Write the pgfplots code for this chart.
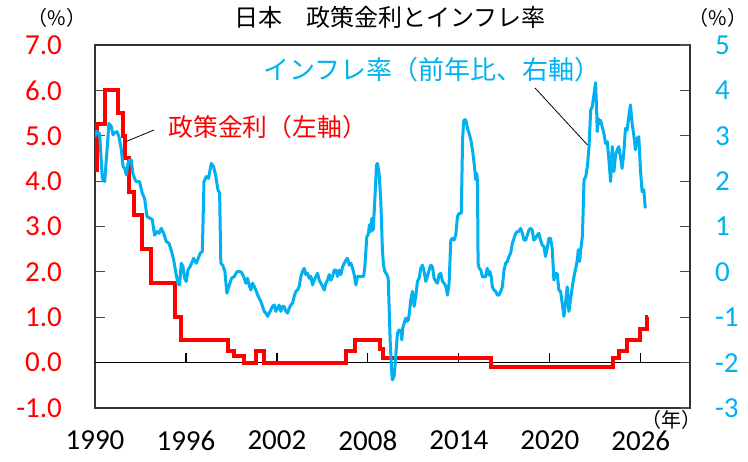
\documentclass[border=0pt]{standalone}
\usepackage{fontspec}
\setmainfont{Carlito}
\newfontfamily\jp{Noto Sans CJK JP}
\usepackage{pgfplots}
\pgfplotsset{compat=1.18}
\definecolor{ratered}{HTML}{FF0000}
\definecolor{cpiblue}{HTML}{00B0F0}

\begin{document}
\begin{tikzpicture}
\useasboundingbox (-47.5pt,-26.5pt) rectangle (326.5pt,204pt);
\begin{axis}[
  at={(0,0)}, anchor=south west,
  scale only axis, width=297.5pt, height=181.5pt,
  xmin=1990, xmax=2029.25, ymin=-1, ymax=7,
  xtick={1990,1996,2002,2008,2014,2020,2026},
  xticklabels={1990,1996,2002,2008,2014,2020,2026},
  ytick={-1,0,1,2,3,4,5,6,7},
  yticklabels={-1.0,0.0,1.0,2.0,3.0,4.0,5.0,6.0,7.0},
  tick align=inside, xtick pos=bottom, ytick pos=left,
  major tick length=5pt,
  xtick style={draw=black, line width=0.6pt, yshift=22.69pt},
  ytick style={draw=black!70, line width=0.6pt},
  axis line style={draw=black!80, line width=0.6pt},
  xticklabel style={font=\fontsize{14.5}{16}\selectfont, text=black, yshift=-8pt},
  yticklabel style={font=\fontsize{14.5}{16}\selectfont, text=ratered, xshift=-13pt},
]
\draw[black, line width=0.7pt] (axis cs:1990,0) -- (axis cs:2029.25,0);
\addplot[const plot, color=ratered, line width=2pt, line join=miter] coordinates {
(1990.00,4.25) (1990.15,5.25) (1990.68,6.00) (1991.50,5.50) (1991.84,5.00)
(1991.96,4.50) (1992.27,3.75) (1992.54,3.25) (1993.10,2.50) (1993.72,1.75)
(1995.30,1.00) (1995.70,0.50) (1998.75,0.25) (1999.15,0.15) (1999.80,0.00)
(2000.62,0.25) (2001.15,0.00) (2006.53,0.25) (2007.15,0.50) (2008.82,0.30)
(2008.97,0.10) (2016.12,-0.10) (2024.20,0.10) (2024.55,0.25) (2025.07,0.50)
(2025.93,0.75) (2026.40,1.00) (2026.48,1.00)
};
\end{axis}
\begin{axis}[
  at={(0,0)}, anchor=south west,
  scale only axis, width=297.5pt, height=181.5pt,
  xmin=1990, xmax=2029.25, ymin=-3, ymax=5,
  axis x line=none, axis y line*=right,
  y axis line style={-},
  ytick={-3,-2,-1,0,1,2,3,4,5},
  yticklabels={-3,-2,-1,0,1,2,3,4,5},
  tick align=inside, major tick length=5pt,
  ytick style={draw=black!70, line width=0.6pt},
  axis line style={draw=black!80, line width=0.6pt},
  yticklabel style={font=\fontsize{14.5}{16}\selectfont, text=cpiblue, anchor=west, xshift=9pt},
]
\addplot[color=cpiblue, line width=1.5pt, line join=round] coordinates {
(1990.00,2.98) (1990.12,3.10) (1990.31,3.04) (1990.48,2.06) (1990.64,1.99)
(1990.92,3.27) (1991.08,3.20) (1991.19,3.02) (1991.30,3.07) (1991.45,3.09)
(1991.58,2.98) (1991.74,2.69) (1991.85,2.32) (1991.96,2.28) (1992.07,2.14)
(1992.18,2.39) (1992.29,2.47) (1992.39,2.47) (1992.50,2.17) (1992.61,2.06)
(1992.72,1.99) (1992.94,1.99) (1993.12,1.73) (1993.27,1.62) (1993.43,1.22)
(1993.65,1.18) (1993.78,1.15) (1993.93,0.81) (1994.09,0.89) (1994.22,0.85)
(1994.37,0.96) (1994.53,0.85) (1994.70,0.67) (1994.88,0.63) (1995.03,0.48)
(1995.19,0.26) (1995.36,-0.07) (1995.47,-0.25) (1995.58,-0.29) (1995.69,0.19)
(1995.80,0.12) (1995.91,-0.14) (1996.02,-0.21) (1996.13,0.04) (1996.28,0.12)
(1996.42,0.23) (1996.50,0.30) (1996.68,0.19) (1996.86,0.34) (1996.94,0.41)
(1997.08,0.45) (1997.19,1.99) (1997.34,2.10) (1997.49,2.06) (1997.67,2.39)
(1997.82,2.32) (1997.95,2.14) (1998.11,1.81) (1998.22,1.73) (1998.30,0.19)
(1998.42,0.15) (1998.57,0.01) (1998.70,-0.47) (1998.86,-0.29) (1999.01,-0.14)
(1999.19,-0.10) (1999.36,0.00) (1999.51,0.01) (1999.67,-0.01) (1999.80,-0.10)
(1999.95,-0.25) (2000.06,-0.14) (2000.17,-0.29) (2000.28,-0.40) (2000.39,-0.25)
(2000.50,-0.32) (2000.61,-0.40) (2000.77,-0.54) (2000.94,-0.65) (2001.05,-0.76)
(2001.16,-0.87) (2001.27,-0.91) (2001.38,-0.98) (2001.49,-0.91) (2001.60,-0.84)
(2001.71,-0.76) (2001.82,-0.73) (2001.93,-0.87) (2002.04,-0.80) (2002.15,-0.73)
(2002.26,-0.87) (2002.37,-0.76) (2002.48,-0.76) (2002.59,-0.87) (2002.70,-0.91)
(2002.81,-0.80) (2002.92,-0.73) (2003.03,-0.69) (2003.14,-0.54) (2003.25,-0.43)
(2003.36,-0.40) (2003.47,-0.32) (2003.58,-0.10) (2003.69,0.01) (2003.80,0.08)
(2003.91,-0.06) (2004.02,-0.03) (2004.13,-0.14) (2004.24,-0.10) (2004.35,-0.29)
(2004.46,-0.18) (2004.57,-0.10) (2004.68,-0.03) (2004.79,-0.18) (2004.90,-0.25)
(2005.01,-0.32) (2005.12,-0.40) (2005.23,-0.25) (2005.34,-0.18) (2005.45,-0.06)
(2005.56,-0.18) (2005.67,-0.10) (2005.78,0.04) (2005.89,0.04) (2006.00,-0.10)
(2006.11,0.04) (2006.22,-0.06) (2006.33,0.11) (2006.44,0.19) (2006.55,0.26)
(2006.66,0.30) (2006.77,0.15) (2006.88,0.19) (2006.99,0.08) (2007.10,-0.06)
(2007.21,-0.29) (2007.32,-0.10) (2007.43,-0.10) (2007.58,-0.10) (2007.72,-0.10)
(2007.80,0.11) (2007.93,0.78) (2008.02,0.82) (2008.11,1.04) (2008.20,0.89)
(2008.26,1.18) (2008.35,0.92) (2008.46,1.59) (2008.57,2.36) (2008.63,2.39)
(2008.74,2.17) (2008.85,1.59) (2008.96,0.48) (2009.03,0.15) (2009.12,0.01)
(2009.25,-0.06) (2009.34,-0.14) (2009.40,-0.76) (2009.47,-1.50) (2009.56,-2.16)
(2009.62,-2.38) (2009.73,-2.30) (2009.84,-1.86) (2009.95,-1.35) (2010.06,-1.28)
(2010.17,-1.31) (2010.24,-1.50) (2010.30,-1.24) (2010.39,-1.13) (2010.50,-1.02)
(2010.56,-1.09) (2010.67,-1.06) (2010.76,-0.84) (2010.83,-0.62) (2010.94,-0.43)
(2011.05,-0.76) (2011.16,-0.54) (2011.27,-0.21) (2011.38,-0.14) (2011.49,0.08)
(2011.60,0.15) (2011.71,0.01) (2011.82,-0.21) (2011.93,-0.10) (2012.04,0.04)
(2012.15,0.15) (2012.26,0.11) (2012.37,-0.14) (2012.48,-0.21) (2012.59,-0.25)
(2012.70,-0.06) (2012.81,-0.03) (2012.92,-0.21) (2013.03,-0.25) (2013.14,-0.32)
(2013.25,-0.51) (2013.36,-0.25) (2013.47,0.70) (2013.58,0.74) (2013.69,0.70)
(2013.80,0.82) (2013.91,1.22) (2014.02,1.29) (2014.16,1.29) (2014.25,2.95)
(2014.32,3.30) (2014.35,3.35) (2014.46,3.35) (2014.57,3.16) (2014.68,3.05)
(2014.79,2.91) (2014.90,2.69) (2015.01,2.39) (2015.12,2.03) (2015.18,2.17)
(2015.23,1.99) (2015.27,0.19) (2015.34,0.08) (2015.45,0.04) (2015.56,-0.11)
(2015.65,-0.11) (2015.76,-0.11) (2015.87,0.08) (2015.98,-0.07) (2016.05,0.01)
(2016.14,-0.11) (2016.21,-0.33) (2016.32,-0.40) (2016.43,-0.43) (2016.54,-0.51)
(2016.65,-0.51) (2016.76,-0.43) (2016.87,-0.33) (2016.98,0.04) (2017.09,0.19)
(2017.20,0.23) (2017.31,0.34) (2017.42,0.41) (2017.53,0.63) (2017.64,0.74)
(2017.75,0.85) (2017.86,0.89) (2017.97,0.89) (2018.08,0.96) (2018.19,0.85)
(2018.30,0.70) (2018.41,0.70) (2018.52,0.81) (2018.62,0.92) (2018.73,0.96)
(2018.84,0.92) (2018.95,0.70) (2019.06,0.74) (2019.17,0.81) (2019.28,0.85)
(2019.39,0.70) (2019.50,0.59) (2019.61,0.56) (2019.72,0.34) (2019.83,0.52)
(2019.94,0.74) (2020.05,0.74) (2020.16,0.52) (2020.27,-0.18) (2020.38,-0.04)
(2020.49,-0.04) (2020.60,-0.40) (2020.71,-0.43) (2020.82,-0.69) (2020.93,-0.98)
(2021.04,-0.69) (2021.15,-0.33) (2021.26,-0.87) (2021.37,-0.62) (2021.48,-0.33)
(2021.59,-0.11) (2021.70,0.06) (2021.82,0.27) (2021.88,0.49) (2021.97,0.23)
(2022.04,0.49) (2022.15,0.78) (2022.26,2.03) (2022.37,2.10) (2022.48,2.32)
(2022.59,2.76) (2022.70,3.57) (2022.80,3.64) (2022.91,3.90) (2023.02,4.17)
(2023.09,3.57) (2023.13,3.09) (2023.20,3.38) (2023.28,3.27) (2023.35,3.34)
(2023.46,3.20) (2023.57,3.05) (2023.68,2.83) (2023.79,2.87) (2023.90,2.47)
(2024.01,1.99) (2024.12,2.76) (2024.23,2.21) (2024.34,2.58) (2024.45,2.69)
(2024.55,2.76) (2024.66,2.54) (2024.77,2.28) (2024.88,2.61) (2024.99,3.16)
(2025.10,3.12) (2025.21,3.42) (2025.32,3.68) (2025.43,3.27) (2025.54,3.02)
(2025.65,2.69) (2025.76,2.94) (2025.87,2.98) (2025.98,2.25) (2026.09,1.77)
(2026.20,1.81) (2026.30,1.40)
};
\end{axis}
% annotations
\node[font=\jp\fontsize{12}{14}\selectfont, inner sep=0pt] at (147.5pt,195.5pt) {日本　政策金利とインフレ率};
\node[font=\jp\fontsize{10}{12}\selectfont, inner sep=0pt] at (-19pt,195pt) {（\%）};
\node[font=\jp\fontsize{10}{12}\selectfont, inner sep=0pt] at (311.5pt,195pt) {（\%）};
\node[font=\jp\fontsize{10}{12}\selectfont, inner sep=0pt] at (288pt,-6pt) {（年）};
\node[font=\jp\fontsize{12.4}{14}\selectfont, text=ratered, anchor=west, inner sep=0pt] at (36.5pt,140.5pt) {政策金利（左軸）};
\node[font=\jp\fontsize{13}{15}\selectfont, text=cpiblue, anchor=west, inner sep=0pt] at (84pt,169pt) {インフレ率（前年比、右軸）};
\draw[black, line width=0.4pt] (29.5pt,139pt) -- (15pt,133pt);
\draw[black, line width=0.4pt] (220pt,160pt) -- (246.25pt,131.5pt);
\end{tikzpicture}
\end{document}
